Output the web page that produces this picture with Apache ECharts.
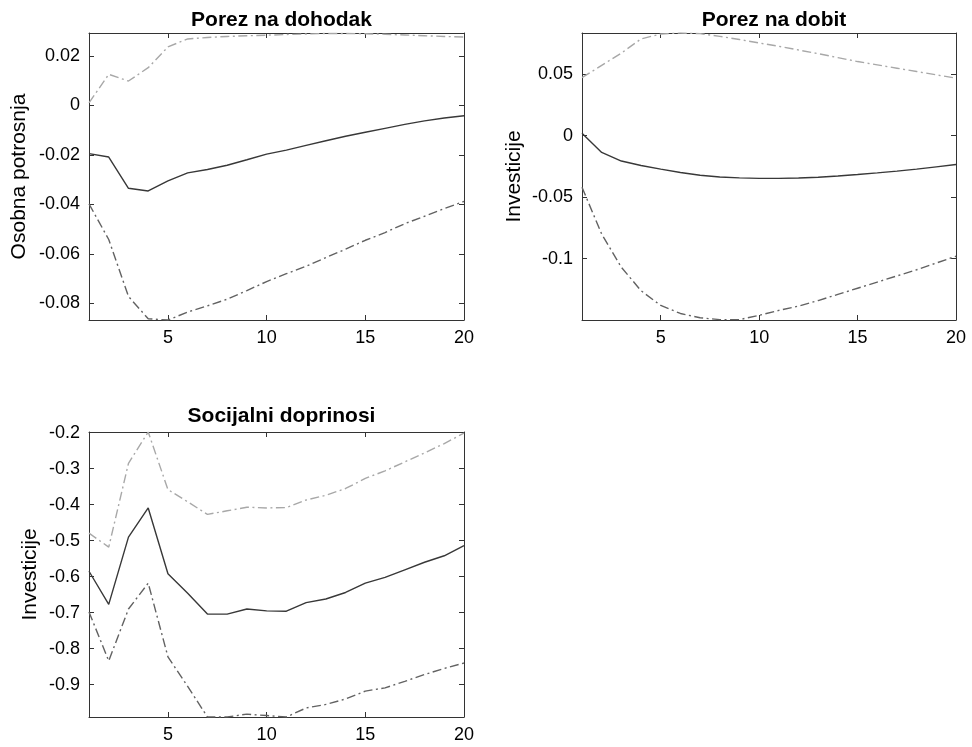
<!DOCTYPE html>
<html>
<head>
<meta charset="utf-8">
<script src="https://cdn.jsdelivr.net/npm/echarts@6.0.0/dist/echarts.min.js"></script>
<style>
html,body{margin:0;padding:0;background:#fff;}
#chart{width:972px;height:747px;}
</style>
</head>
<body>
<div id="chart"></div>
<script>
// ---- data ----
const periods = [1,2,3,4,5,6,7,8,9,10,11,12,13,14,15,16,17,18,19,20];
const xTicks = [5,10,15,20];

const titles = ['Porez na dohodak','Porez na dobit','Socijalni doprinosi'];
const yNames = ['Osobna potrosnja','Investicije','Investicije'];

const p1Ticks = [-0.08,-0.06,-0.04,-0.02,0,0.02];
const p1Range = [-0.0867,0.0292];
const p1Mid = [-0.0195,-0.0209,-0.0335,-0.0346,-0.0305,-0.0273,-0.0259,-0.0242,-0.0220,-0.0197,-0.0181,-0.0162,-0.0143,-0.0125,-0.0109,-0.0093,-0.0077,-0.0063,-0.0051,-0.0042];
const p1Up  = [0.0010,0.0125,0.0098,0.0152,0.0236,0.0268,0.0274,0.0278,0.0281,0.0283,0.0286,0.0288,0.0290,0.0290,0.0289,0.0287,0.0284,0.0281,0.0278,0.0276];
const p1Low = [-0.0398,-0.0542,-0.0772,-0.0862,-0.0867,-0.0835,-0.0810,-0.0783,-0.0748,-0.0712,-0.0680,-0.0650,-0.0615,-0.0581,-0.0545,-0.0514,-0.0478,-0.0448,-0.0417,-0.0388];

const p2Ticks = [-0.1,-0.05,0,0.05];
const p2Range = [-0.1498,0.0833];
const p2Mid = [0.0019,-0.0137,-0.0207,-0.0243,-0.0273,-0.0300,-0.0322,-0.0336,-0.0344,-0.0348,-0.0348,-0.0345,-0.0338,-0.0328,-0.0316,-0.0303,-0.0289,-0.0273,-0.0254,-0.0235];
const p2Up  = [0.0470,0.0570,0.0670,0.0785,0.0825,0.0833,0.0828,0.0806,0.0780,0.0752,0.0725,0.0695,0.0665,0.0633,0.0601,0.0574,0.0547,0.0520,0.0493,0.0466];
const p2Low = [-0.0420,-0.0800,-0.1070,-0.1260,-0.1380,-0.1445,-0.1480,-0.1495,-0.1495,-0.1460,-0.1420,-0.1385,-0.1340,-0.1290,-0.1240,-0.1190,-0.1140,-0.1090,-0.1035,-0.0980];

const p3Ticks = [-0.9,-0.8,-0.7,-0.6,-0.5,-0.4,-0.3,-0.2];
const p3Range = [-0.99,-0.198];
const p3Mid = [-0.585,-0.677,-0.490,-0.409,-0.592,-0.646,-0.704,-0.704,-0.690,-0.695,-0.696,-0.672,-0.662,-0.644,-0.618,-0.602,-0.581,-0.560,-0.542,-0.514];
const p3Up  = [-0.479,-0.518,-0.285,-0.198,-0.358,-0.392,-0.427,-0.417,-0.407,-0.409,-0.408,-0.387,-0.374,-0.355,-0.327,-0.306,-0.281,-0.256,-0.230,-0.201];
const p3Low = [-0.698,-0.834,-0.690,-0.618,-0.823,-0.905,-0.990,-0.990,-0.982,-0.986,-0.990,-0.965,-0.955,-0.940,-0.918,-0.909,-0.891,-0.872,-0.855,-0.840];

const panelData = [
  {ticks:p1Ticks, range:p1Range, mid:p1Mid, up:p1Up, low:p1Low},
  {ticks:p2Ticks, range:p2Range, mid:p2Mid, up:p2Up, low:p2Low},
  {ticks:p3Ticks, range:p3Range, mid:p3Mid, up:p3Up, low:p3Low}
];

// ---- layout / style ----
const layout = [
  {grid:{left:89, top:33, width:375, height:287}, nameGap:59, titleX:276.5, titleY:5},
  {grid:{left:582, top:33, width:374, height:287}, nameGap:57, titleX:769, titleY:5},
  {grid:{left:89, top:432, width:375, height:285}, nameGap:48, titleX:276.5, titleY:401}
];
const FONT = "'Liberation Sans', Arial, Helvetica, sans-serif";
const AX = '#333';
const colMid = '#383838', colUp = '#a8a8a8', colLow = '#626262';
const dashDot = [9,3.5,2,3.5];
const LBL = 18;

const pairs = (arr) => periods.map((t,i) => [t, arr[i]]);

const grids = [], xAxes = [], yAxes = [], series = [], title = [];
panelData.forEach((p, i) => {
  const L = layout[i];
  grids.push(Object.assign({containLabel:false}, L.grid));
  title.push({text: titles[i], left: L.titleX, top: L.titleY, textAlign:'center',
    textStyle:{fontFamily:FONT, fontSize:21, fontWeight:'bold', color:'#000'}});
  const common = {type:'value', gridIndex:i, splitLine:{show:false},
    axisLine:{show:true, onZero:false, lineStyle:{color:AX, width:1}}};
  xAxes.push(Object.assign({}, common, {position:'bottom', min:1, max:20,
    axisTick:{inside:true, length:5, customValues:xTicks, lineStyle:{color:AX}},
    axisLabel:{customValues:xTicks, margin:9, fontSize:LBL, fontFamily:FONT, color:'#000'}}));
  xAxes.push(Object.assign({}, common, {position:'top', min:1, max:20,
    axisTick:{inside:true, length:5, customValues:xTicks, lineStyle:{color:AX}},
    axisLabel:{show:false}}));
  yAxes.push(Object.assign({}, common, {position:'left', min:p.range[0], max:p.range[1],
    name: yNames[i], nameLocation:'middle', nameGap:L.nameGap,
    nameTextStyle:{fontFamily:FONT, fontSize:21, color:'#000'},
    axisTick:{inside:true, length:5, customValues:p.ticks, lineStyle:{color:AX}},
    axisLabel:{customValues:p.ticks, margin:9, fontSize:LBL, fontFamily:FONT, color:'#000'}}));
  yAxes.push(Object.assign({}, common, {position:'right', min:p.range[0], max:p.range[1],
    axisTick:{inside:true, length:5, customValues:p.ticks, lineStyle:{color:AX}},
    axisLabel:{show:false}}));
  const base = {type:'line', xAxisIndex:2*i, yAxisIndex:2*i, symbol:'none', silent:true, clip:true};
  series.push(Object.assign({}, base, {name:'up'+i, data:pairs(p.up), lineStyle:{color:colUp, width:1.4, type:dashDot}}));
  series.push(Object.assign({}, base, {name:'low'+i, data:pairs(p.low), lineStyle:{color:colLow, width:1.4, type:dashDot}}));
  series.push(Object.assign({}, base, {name:'mid'+i, data:pairs(p.mid), lineStyle:{color:colMid, width:1.4}}));
});

const chart = echarts.init(document.getElementById('chart'), null, {renderer:'canvas'});
chart.setOption({
  animation:false,
  backgroundColor:'#fff',
  title, grid:grids, xAxis:xAxes, yAxis:yAxes, series
});
</script>
</body>
</html>
